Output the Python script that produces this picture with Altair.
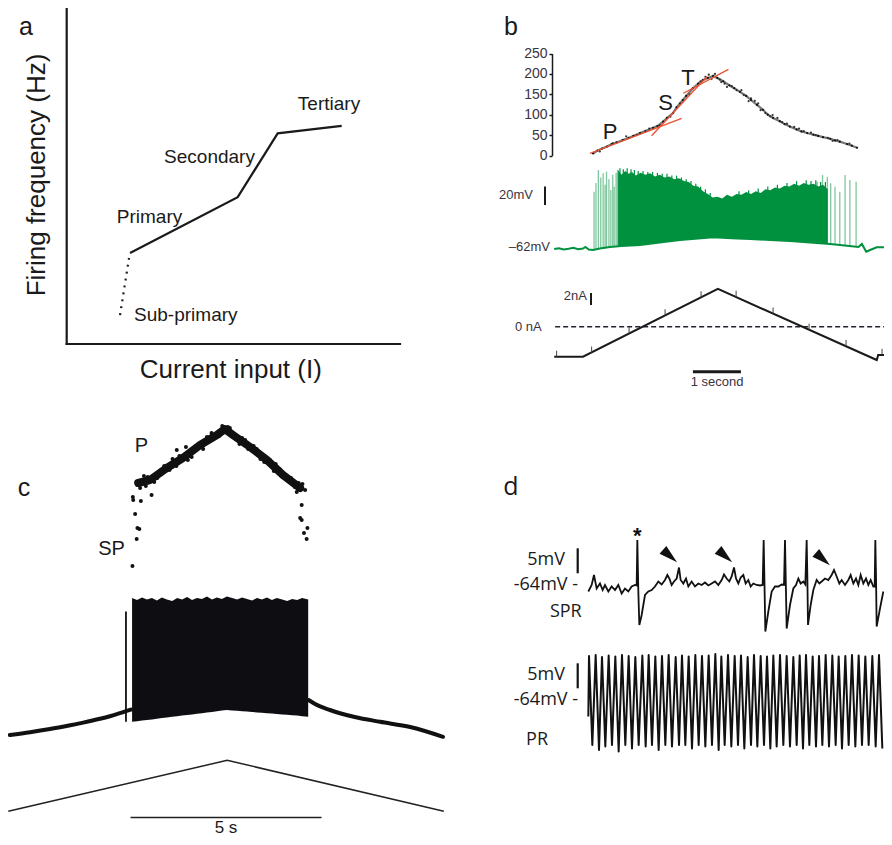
import altair as alt
import pandas as pd

W, H = 876, 829
INK = "#1a1a1a"
SANS = "Liberation Sans"
DFONT = "Open Sans"
GREEN = "#00913f"
RED = "#ea5030"

# ---------------- panel a : schematic f-I curve ----------------
a_axis_i = [0, 0]
a_axis_i2 = [0, 10]
a_axis_f = [0, 0]
a_axis_f2 = [100, 0]
a_sub_i = [1.6, 1.87]
a_sub_f = [8.6, 25.6]
a_curve_i = [1.9, 5.13, 6.33, 8.25]
a_curve_f = [27.1, 43.7, 62.7, 64.9]

# ---------------- panel b : rate (Hz) vs time (s) ----------------
b_rate_t = [0.21, 0.3, 0.4, 0.5, 0.6, 0.7, 0.83, 0.95, 1.05, 1.19, 1.3, 1.46, 1.55, 1.67, 1.75,
            1.875, 1.95, 2.08, 2.15, 2.29, 2.4, 2.5, 2.6, 2.71, 2.8, 2.92, 3.05, 3.15, 3.27, 3.4,
            3.5, 3.625, 3.75, 3.85, 3.96, 4.1, 4.2, 4.31, 4.45, 4.55, 4.67, 4.8, 4.9, 5.0, 5.15,
            5.25, 5.35, 5.5, 5.6, 5.71]
b_rate_hz = [5, 12, 17, 22, 28, 32, 38, 43, 48, 55, 60, 68, 72, 83, 92,
             104, 118, 136, 146, 165, 176, 185, 190, 195, 190, 182, 172, 165, 156, 146,
             136, 124, 112, 100, 92, 84, 77, 71, 64, 59, 55, 51, 48, 45, 41,
             37, 34, 28, 24, 19]
b_jit_t = [0.35, 0.62, 0.9, 1.12, 1.38, 1.6, 1.82, 2.02, 2.22, 2.45, 2.62, 2.75, 2.85, 2.95,
           3.1, 3.2, 3.35, 3.5, 3.65, 3.8, 3.95, 4.15, 4.4, 4.6, 4.85, 5.1, 5.3, 5.55,
           2.55, 2.68, 2.88, 3.0, 3.3, 3.45, 3.58, 3.7, 3.9, 4.05, 4.25, 4.5, 4.75, 5.2]
b_jit_hz = [10, 30, 47, 50, 66, 74, 95, 128, 150, 182, 198, 200, 186, 176,
            170, 160, 148, 140, 128, 104, 99, 82, 70, 60, 50, 43, 38, 29,
            193, 188, 180, 168, 160, 133, 134, 111, 96, 92, 78, 66, 56, 36]
b_fit_seg = ["P", "P", "S", "S", "T", "T"]
b_fit_t = [0.146, 2.056, 1.43, 2.58, 2.09, 3.03]
b_fit_hz = [5.4, 91.2, 48.5, 193, 152.5, 211]
b_rate_ticks = [0, 50, 100, 150, 200, 250]

# membrane potential (mV) of panel b
b_base_t = [-0.6, -0.5, -0.4, -0.3, -0.2, -0.1, 0.0, 0.05, 0.12, 0.21, 0.35, 0.56, 0.8, 1.19, 1.6,
            2.02, 2.4, 2.71, 3.1, 3.48, 3.9, 4.31, 4.73, 5.15, 5.5, 5.74, 5.81, 5.9, 5.98, 6.12, 6.27]
b_base_v = [-62.0, -61.2, -62.5, -61.8, -60.8, -62.2, -61.5, -59.8, -62.6, -63.1, -61.5, -59.8, -58.8,
            -57.6, -55.0, -52.2, -50.5, -49.2, -50.2, -51.1, -52.2, -53.3, -55.0, -56.5, -58.5, -59.8,
            -56.5, -64.9, -63.1, -60.1, -60.0]
b_burst_t = [0.73, 0.8, 0.88, 0.95, 1.02, 1.1, 1.2, 1.3, 1.4, 1.5, 1.6, 1.7, 1.8, 1.9, 2.0, 2.1, 2.2,
             2.3, 2.4, 2.5, 2.6, 2.7, 2.8, 2.9, 3.0, 3.1, 3.2, 3.3, 3.4, 3.5, 3.6, 3.7, 3.8, 3.9, 4.0,
             4.1, 4.2, 4.3, 4.4, 4.5, 4.6, 4.7, 4.8, 4.9, 5.0, 5.1]
b_burst_top = [24, 19, 23, 20, 22, 18, 21, 19, 20.5, 17, 19, 16, 17, 14, 15, 12, 11, 7, 6, 1, -2, -6,
               -5, -7, -3, -5, -2, -3, 0, -2, 1, -1, 3, 2, 5, 4, 7, 6, 9, 7, 10, 8, 9, 6, 8, 3]
b_burst_low = [-59.3, -59.0, -58.8, -58.6, -58.3, -58.0, -57.6, -57.0, -56.5, -55.8, -55.2, -54.5,
               -53.8, -53.0, -52.3, -51.8, -51.3, -50.8, -50.4, -50.0, -49.6, -49.2, -49.3, -49.6,
               -49.9, -50.2, -50.4, -50.6, -50.9, -51.1, -51.4, -51.7, -52.0, -52.3, -52.5, -52.8,
               -53.0, -53.3, -53.7, -54.1, -54.5, -54.9, -55.2, -55.6, -56.0, -56.3]
# taller spikes sticking out of the dense burst
b_tall_t = [0.77, 0.84, 0.92, 1.0, 1.07, 1.15, 1.25, 1.35, 1.45, 1.55, 1.65, 1.75, 1.85, 1.95, 2.05,
            2.15, 2.25, 2.35, 2.45, 2.55, 2.65, 3.25, 3.45, 3.65, 3.85, 4.05, 4.25, 4.45, 4.65,
            4.75, 4.85, 4.95, 5.05]
b_tall_top = [26, 25, 26, 25, 24, 23, 23, 22, 22, 21, 20, 20, 18, 18, 16, 14, 12, 9, 6, 3, -1,
              1, 2, 4, 6, 8, 10, 12, 13, 12, 13, 11, 11]
# lighter isolated spikes at the start and end of the burst
b_spike_t = [0.23, 0.27, 0.32, 0.37, 0.42, 0.46, 0.49, 0.54, 0.58, 0.62, 0.65, 0.69, 0.72,
             4.69, 4.79, 4.88, 4.99, 5.09, 5.16, 5.25, 5.35, 5.46, 5.56, 5.69]
b_spike_top = [0.5, 10, 24.1, 16, 20.6, 8, 22.3, 14, 2.3, 19, 5.9, 21, 24.1,
               7.8, -3.1, 11.4, 18.7, 16.8, 9.6, 5.9, 0.5, 18.7, 13.2, 11.4]
b_spike_low = [-62.5, -62.2, -62.0, -61.7, -61.5, -61.2, -61.0, -60.7, -60.5, -60.2, -60.0, -59.7,
               -59.5, -55.0, -55.3, -55.6, -56.0, -56.4, -56.6, -57.0, -57.5, -58.0, -58.6, -59.5]

# injected current (nA) of panel b
b_ramp_t = [-0.6, 0.0, 2.81, 6.12, 6.15, 6.3]
b_ramp_i = [-5.0, -5.0, 6.3, -5.55, -4.7, -4.7]
b_mark_t = [-0.55, 0.18, 0.96, 1.71, 2.46, 3.19, 3.96, 4.71, 5.48, 6.23]
b_mark_i = [-5.0, -4.3, -1.1, 1.9, 4.9, 5.0, 2.2, -0.5, -3.2, -4.7]
b_zero_t = [-0.58, 6.29]
b_zero_i = [0, 0]
b_bar_mv = [-14, 6]      # 20 mV
b_bar_na = [3.6, 5.6]    # 2 nA
b_bar_s = [2.29, 3.29]   # 1 second

# ---------------- panel c ----------------
c_band_t = [3.40, 3.71, 4.15, 4.57, 5.02, 5.46, 5.67, 5.88, 6.33, 6.77, 7.19, 7.64]
c_band_f = [87, 90, 102, 112, 125, 135, 141, 135, 123, 110, 95, 82]
c_dot_t = [3.25, 3.36, 3.43, 3.38, 3.32, 3.27, 3.26, 3.47, 3.75, 4.41, 4.65, 7.77, 7.68, 7.64, 7.68,
           7.83, 7.74, 7.81, 7.55, 7.70, 3.55, 3.90, 4.30, 4.80, 5.20, 5.60, 5.75, 6.05, 6.50, 6.95,
           7.40, 3.60, 4.00, 4.40, 5.10, 6.20, 6.60, 7.00, 7.50,
           3.45, 3.65, 3.82, 4.08, 4.22, 4.48, 4.70, 4.92, 5.15, 5.32, 5.52, 5.80, 5.95, 6.12, 6.28,
           6.42, 6.70, 6.85, 7.10, 7.30, 7.45, 7.60]
c_dot_f = [4, 31, 41, 42, 56, 70, 73, 69, 75, 120, 123, 80, 65, 52, 50, 42, 37, 31, 78, 86, 94, 92,
           111, 113, 133, 144, 143, 126, 121, 99, 92, 84, 100, 104, 121, 130, 111, 106, 83,
           82, 93, 88, 104, 100, 114, 110, 124, 127, 137, 134, 142, 131, 132, 121,
           124, 108, 110, 101, 91, 87, 87]
c_pre_t = [0.04, 0.57, 1.09, 1.62, 1.96, 2.40, 2.66, 2.92, 3.08, 3.21]
c_pre_v = [-70, -68.6, -67.0, -65.1, -63.8, -61.9, -60.6, -59.1, -58.1, -57.3]
c_post_t = [7.86, 8.03, 8.42, 9.07, 9.73, 10.52, 11.38]
c_post_v = [-52.5, -54.5, -57.5, -61, -63.4, -66, -70.9]
c_first_t = [3.08]
c_first_lo = [-63.4]
c_first_hi = [-8.3]
c_burst_t = [3.24, 3.37, 3.50, 3.63, 3.76, 3.89, 4.02, 4.15, 4.29, 4.42, 4.55, 4.68, 4.81, 4.94,
             5.07, 5.20, 5.33, 5.46, 5.59, 5.72, 5.86, 5.99, 6.12, 6.25, 6.38, 6.51, 6.64, 6.77,
             6.90, 7.03, 7.17, 7.30, 7.43, 7.56, 7.69, 7.85]
c_burst_top = [-1.5, -2.5, -1.2, -2.2, -1.5, -2.8, -1.2, -2.2, -3.0, -1.5, -2.2, -1.0, -2.5, -1.5,
               -2.0, -0.8, -2.2, -1.2, -2.0, -0.8, -1.5, -2.2, -1.2, -2.0, -2.8, -1.5, -2.2, -1.2,
               -2.5, -1.5, -2.2, -3.0, -2.0, -2.5, -1.5, -2.2]
c_burst_low = [-63.4, -63.1, -62.8, -62.5, -62.2, -61.9, -61.5, -61.2, -60.9, -60.6, -60.3, -60.0,
               -59.7, -59.4, -59.1, -58.8, -58.5, -58.1, -57.8, -57.5, -57.7, -57.9, -58.1, -58.3,
               -58.5, -58.7, -58.9, -59.1, -59.3, -59.5, -59.7, -59.9, -60.1, -60.3, -60.6, -60.9]
c_ramp_t = [0, 5.73, 11.4]
c_ramp_i = [0, 5, 0]
c_bar_s = [3.2, 8.2]     # 5 s

# ---------------- panel d ----------------
spr_t = [0, 5, 8.5, 12.5, 17.5, 21.5, 25, 30, 35, 40,
         45, 50, 55, 60, 65, 70, 72.5, 73.5, 75, 76.5,
         80, 85, 90, 95, 100, 105, 110, 115, 118.5, 121.5,
         125, 128.5, 132.5, 136, 138.5, 142.5, 146.5, 150, 155, 160,
         165, 170, 175, 180, 185, 190, 195, 200, 203.5, 207.5,
         211.5, 215, 218.5, 221.5, 225, 228.5, 232.5, 236, 240, 243.5,
         247.5, 252.5, 257.5, 261.5, 263, 264, 265.5, 270, 275, 280,
         285, 290, 293.5, 295, 296, 297.5, 302.5, 307.5, 311.5, 315,
         318.5, 322.5, 325.5, 327.5, 328.5, 329.5, 333.5, 337.5, 342.5, 346.5,
         350, 355, 360, 365, 368.5, 372.5, 376.5, 380, 385, 390,
         393.5, 397.5, 401.5, 405, 408.5, 412.5, 416.5, 420, 423.5, 427.5,
         429.5, 430.5, 431.5, 432.5, 437.5, 442.5]
spr_v = [-65.3, -64.0, -62.0, -64.7, -63.7, -65.0, -64.0, -65.3, -64.3, -65.0,
         -64.0, -65.7, -64.7, -65.3, -64.3, -64.0, -64.1, -55.0, -65.3, -72.0,
         -70.0, -66.0, -65.3, -65.0, -64.3, -63.3, -63.9, -63.0, -62.0, -62.7,
         -64.0, -63.3, -62.7, -60.5, -63.0, -63.7, -62.7, -64.3, -63.3, -64.3,
         -63.7, -64.0, -63.5, -64.1, -63.7, -63.3, -64.0, -63.0, -61.9, -62.7,
         -63.3, -62.3, -60.5, -62.7, -63.7, -62.5, -62.0, -63.7, -63.0, -64.3,
         -63.7, -64.0, -64.1, -64.0, -55.0, -62.0, -73.3, -69.3, -65.3, -64.3,
         -64.3, -63.9, -64.0, -55.0, -62.0, -72.7, -68.0, -64.7, -64.0, -62.7,
         -63.7, -63.3, -63.9, -55.0, -62.0, -72.0, -68.0, -65.0, -63.0, -63.7,
         -63.3, -62.7, -63.0, -62.0, -61.0, -62.3, -63.7, -63.0, -64.0, -63.0,
         -62.0, -63.7, -62.7, -64.0, -62.0, -63.7, -62.7, -64.0, -63.0, -64.3,
         -64.3, -55.0, -62.0, -72.3, -68.7, -65.3]
pr_start_t = [0]
pr_start_v = [-67.3]
pr_peak_t = [1, 11, 20.5, 30.5, 40.5, 50.5, 60.5, 70.5, 81, 90.5,
             100.5, 110.5, 120.5, 131, 140.5, 150.5, 160.5, 170.5, 180.5, 190.5,
             199.5, 209.5, 219.5, 229, 239, 248.5, 258.5, 268, 277.5, 287.5,
             297.5, 307.5, 317, 326.5, 336.5, 346, 356, 366, 375.5, 385.5,
             395.5, 405.5, 415.5, 426, 436]
pr_peak_v = [-55.2, -55.0, -55.4, -55.1, -55.3, -55.0, -55.2, -55.4, -55.1, -55.0,
             -55.3, -55.2, -55.0, -55.4, -55.1, -55.3, -55.0, -55.2, -55.1, -54.8,
             -55.3, -55.0, -55.2, -55.1, -55.4, -55.0, -55.2, -55.3, -55.1, -55.0,
             -55.2, -55.4, -55.1, -55.0, -55.3, -55.2, -55.0, -55.1, -55.3, -55.2,
             -55.0, -55.1, -55.3, -55.2, -55.0]
pr_trough_t = [6, 16, 25.5, 35.5, 45.5, 55.5, 65.5, 75.5, 86, 95.5,
               105.5, 115.5, 125.5, 136, 145.5, 155.5, 165.5, 175.5, 185.5, 195.5,
               204.5, 214.5, 224.5, 234, 244, 253.5, 263.5, 273, 282.5, 292.5,
               302.5, 312.5, 322, 331.5, 341.5, 351, 361, 371, 380.5, 390.5,
               400.5, 410.5, 420.5, 431, 441]
pr_trough_v = [-73.0, -74.0, -73.3, -73.0, -74.3, -73.0, -73.7, -73.0, -73.3, -73.0,
               -74.0, -73.0, -73.3, -73.0, -73.0, -73.7, -73.0, -73.3, -73.0, -74.0,
               -73.0, -73.3, -73.0, -73.7, -73.0, -73.3, -73.0, -73.7, -73.3, -73.0,
               -73.3, -73.0, -73.7, -73.0, -73.3, -73.0, -73.3, -73.0, -73.7, -73.0,
               -73.3, -73.0, -73.0, -73.3, -73.7]
d_star_t = [73.5]
d_star_v = [-54.2]
d_arrow_t = [122.5, 205.2, 351.8]
d_arrow_v = [-58.2, -58.2, -58.8]
d_bar_mv = [-61.66, -56.66]   # 5 mV


# ---------------- helpers ----------------
def sc(dom, rng):
    return alt.Scale(domain=dom, range=rng, nice=False, zero=False)


A_X = ([0, 10], [58.7, 392])
A_Y = ([0, 100], [336, 0])
B_T = ([-0.6, 6.25], [546.2, 875])
B_HZ = ([0, 250], [147.5, 45.5])
B_V = ([-70, 30], [248.3, 156.6])
B_I = ([-6, 7], [354.7, 276.7])
C_T = ([0, 11.4], [0.3, 435.8])
C_F = ([0, 150], [562, 412])
C_V = ([-75, 0], [737, 587])
C_I = ([0, 5], [803.3, 752.3])
D_T = ([0, 443.5], [580.33, 876])
D_SPR = ([-75, -50], [632, 507])
D_PR = ([-75, -50], [747, 622])


def X(field, s):
    return alt.X(field, type="quantitative", scale=sc(*s), axis=None)


def Y(field, s, axis=None):
    return alt.Y(field, type="quantitative", scale=sc(*s), axis=axis)


ONE = pd.DataFrame({"k": [0]})


def label(txt, x, y, size, font=SANS, align="center", angle=0, color=INK, baseline="middle"):
    return alt.Chart(ONE).mark_text(
        text=txt, fontSize=size, font=font, align=align, baseline=baseline,
        angle=angle, color=color
    ).encode(x=alt.value(x), y=alt.value(y))


layers = []

# ---- panel a ----
df = pd.DataFrame({"i": a_axis_i, "i2": a_axis_i2, "f": a_axis_f, "f2": a_axis_f2})
layers.append(alt.Chart(df).mark_rule(color=INK, strokeWidth=2.2, strokeCap="square").encode(
    x=X("i", A_X), x2="i2", y=Y("f", A_Y), y2="f2"))
df = pd.DataFrame({"i": a_sub_i, "f": a_sub_f})
layers.append(alt.Chart(df).mark_line(color=INK, strokeWidth=2.2, strokeDash=[2, 5]).encode(
    x=X("i", A_X), y=Y("f", A_Y)))
df = pd.DataFrame({"i": a_curve_i, "f": a_curve_f})
layers.append(alt.Chart(df).mark_line(color=INK, strokeWidth=2.2).encode(
    x=X("i", A_X), y=Y("f", A_Y)))
layers += [
    label("a", 18, 19, 25),
    label("Firing frequency (Hz)", 28.7, 167, 26, angle=270),
    label("Current input (I)", 222.8, 362, 26),
    label("Tertiary", 321, 96.3, 19),
    label("Secondary", 201.5, 148.7, 19),
    label("Primary", 141.5, 209.3, 19),
    label("Sub-primary", 177.8, 307, 19),
]

# ---- panel b ----
b_axis = alt.Axis(orient="left", offset=-544, values=b_rate_ticks, tickSize=3, tickWidth=1.5,
                  domainWidth=1.5, domainColor=INK, tickColor=INK, labelFont=SANS,
                  labelFontSize=14, labelColor="#3b333d", labelPadding=2, grid=False, title="")
df = pd.DataFrame({"t": b_rate_t, "hz": b_rate_hz})
layers.append(alt.Chart(df).mark_line(color="#555", strokeWidth=2.2, opacity=0.8).encode(
    x=X("t", B_T), y=Y("hz", B_HZ, axis=b_axis)))
layers.append(alt.Chart(df).mark_point(filled=True, color="#111", size=5, opacity=1).encode(
    x=X("t", B_T), y=Y("hz", B_HZ)))
df = pd.DataFrame({"t": b_jit_t, "hz": b_jit_hz})
layers.append(alt.Chart(df).mark_point(filled=True, color="#222", size=5, opacity=0.9).encode(
    x=X("t", B_T), y=Y("hz", B_HZ)))
df = pd.DataFrame({"seg": b_fit_seg, "t": b_fit_t, "hz": b_fit_hz})
layers.append(alt.Chart(df).mark_line(color=RED, strokeWidth=1.3).encode(
    x=X("t", B_T), y=Y("hz", B_HZ), detail="seg"))
layers += [label("P", 602, 124, 22), label("S", 657.5, 95, 22), label("T", 680, 70, 22),
           label("b", 503, 19, 25)]

df = pd.DataFrame({"t": b_spike_t, "top": b_spike_top, "low": b_spike_low})
layers.append(alt.Chart(df).mark_rule(color=GREEN, strokeWidth=1.3, opacity=0.5).encode(
    x=X("t", B_T), y=Y("top", B_V), y2="low"))
df = pd.DataFrame({"t": b_burst_t, "top": b_burst_top, "low": b_burst_low})
layers.append(alt.Chart(df).mark_area(color=GREEN, opacity=1).encode(
    x=X("t", B_T), y=Y("top", B_V), y2="low"))
df = pd.DataFrame({"t": b_tall_t, "top": b_tall_top})
layers.append(alt.Chart(df).transform_calculate(low="datum.top - 15").mark_rule(
    color=GREEN, strokeWidth=1.2).encode(x=X("t", B_T), y=Y("top", B_V), y2="low:Q"))
df = pd.DataFrame({"t": b_base_t, "v": b_base_v})
layers.append(alt.Chart(df).mark_line(color=GREEN, strokeWidth=2).encode(
    x=X("t", B_T), y=Y("v", B_V)))
df = pd.DataFrame({"lo": [b_bar_mv[0]], "hi": [b_bar_mv[1]]})
layers.append(alt.Chart(df).mark_rule(color=INK, strokeWidth=2).encode(
    x=alt.value(537), y=Y("lo", B_V), y2="hi"))
layers += [label("20mV", 525, 187, 13, align="right", color="#3b333d"),
           label("\u201362mV", 542, 239, 13, align="right", color="#3b333d")]

df = pd.DataFrame({"t": b_zero_t, "i": b_zero_i})
layers.append(alt.Chart(df).mark_line(color="#2a2030", strokeWidth=1.6, strokeDash=[5, 3]).encode(
    x=X("t", B_T), y=Y("i", B_I)))
df = pd.DataFrame({"t": b_ramp_t, "i": b_ramp_i})
layers.append(alt.Chart(df).mark_line(color=INK, strokeWidth=2).encode(
    x=X("t", B_T), y=Y("i", B_I)))
df = pd.DataFrame({"t": b_mark_t, "i": b_mark_i})
layers.append(alt.Chart(df).transform_calculate(top="datum.i + 1").mark_rule(
    color="#444", strokeWidth=1).encode(x=X("t", B_T), y=Y("i", B_I), y2="top:Q"))
df = pd.DataFrame({"lo": [b_bar_na[0]], "hi": [b_bar_na[1]]})
layers.append(alt.Chart(df).mark_rule(color=INK, strokeWidth=2).encode(
    x=alt.value(583), y=Y("lo", B_I), y2="hi"))
df = pd.DataFrame({"a": [b_bar_s[0]], "b": [b_bar_s[1]]})
layers.append(alt.Chart(df).mark_rule(color=INK, strokeWidth=3).encode(
    x=X("a", B_T), x2="b", y=alt.value(363.7)))
layers += [label("2nA", 579, 288, 13, align="right", color="#3b333d"),
           label("0 nA", 533.7, 319, 13, align="right", color="#3b333d"),
           label("1 second", 709, 374, 13, color="#3b333d")]

# ---- panel c ----
df = pd.DataFrame({"t": c_band_t, "f": c_band_f})
layers.append(alt.Chart(df).mark_line(color="#111", strokeWidth=8, strokeCap="round",
                                      strokeJoin="round").encode(x=X("t", C_T), y=Y("f", C_F)))
df = pd.DataFrame({"t": c_dot_t, "f": c_dot_f})
layers.append(alt.Chart(df).mark_point(filled=True, color="#111", size=16, opacity=1).encode(
    x=X("t", C_T), y=Y("f", C_F)))
layers += [label("c", 16, 480, 25), label("P", 133.5, 437.5, 20), label("SP", 103.5, 541, 20)]

df = pd.DataFrame({"t": c_burst_t, "top": c_burst_top, "low": c_burst_low})
layers.append(alt.Chart(df).mark_area(color="#0e0e12", opacity=1).encode(
    x=X("t", C_T), y=Y("top", C_V), y2="low"))
df = pd.DataFrame({"t": c_pre_t, "v": c_pre_v})
layers.append(alt.Chart(df).mark_line(color="#111", strokeWidth=4, strokeCap="round",
                                      interpolate="monotone").encode(
    x=X("t", C_T), y=Y("v", C_V)))
df = pd.DataFrame({"t": c_post_t, "v": c_post_v})
layers.append(alt.Chart(df).mark_line(color="#111", strokeWidth=4, strokeCap="round",
                                      interpolate="monotone").encode(
    x=X("t", C_T), y=Y("v", C_V)))
df = pd.DataFrame({"t": c_first_t, "lo": c_first_lo, "hi": c_first_hi})
layers.append(alt.Chart(df).mark_rule(color="#111", strokeWidth=1.8).encode(
    x=X("t", C_T), y=Y("lo", C_V), y2="hi"))
df = pd.DataFrame({"t": c_ramp_t, "i": c_ramp_i})
layers.append(alt.Chart(df).mark_line(color="#222", strokeWidth=1.5).encode(
    x=X("t", C_T), y=Y("i", C_I)))
df = pd.DataFrame({"a": [c_bar_s[0]], "b": [c_bar_s[1]]})
layers.append(alt.Chart(df).mark_rule(color="#222", strokeWidth=1.5).encode(
    x=X("a", C_T), x2="b", y=alt.value(809.5)))
layers.append(label("5 s", 218, 820, 17))

# ---- panel d ----
df = pd.DataFrame({"t": spr_t, "v": spr_v})
layers.append(alt.Chart(df).mark_line(color="#111", strokeWidth=1.8).encode(
    x=X("t", D_T), y=Y("v", D_SPR)))
pr_rows = [(t, v) for t, v in zip(pr_start_t, pr_start_v)]
for pt, pv, tt, tv in zip(pr_peak_t, pr_peak_v, pr_trough_t, pr_trough_v):
    pr_rows += [(pt, pv), (tt, tv)]
df = pd.DataFrame(pr_rows, columns=["t", "v"])
layers.append(alt.Chart(df).mark_line(color="#111", strokeWidth=2, strokeJoin="round").encode(
    x=X("t", D_T), y=Y("v", D_PR)))
df = pd.DataFrame({"t": d_star_t, "v": d_star_v})
layers.append(alt.Chart(df).mark_text(text="*", fontSize=22, font=SANS, color="#111",
                                      fontWeight="bold").encode(
    x=X("t", D_T), y=Y("v", D_SPR)))
df = pd.DataFrame({"t": d_arrow_t, "v": d_arrow_v})
layers.append(alt.Chart(df).mark_point(shape="M0,-1L0.55,1L-0.55,1Z", size=350, angle=131,
                                       filled=True, color="#111", opacity=1).encode(
    x=X("t", D_T), y=Y("v", D_SPR)))
df = pd.DataFrame({"lo": [d_bar_mv[0]], "hi": [d_bar_mv[1]]})
layers.append(alt.Chart(df).mark_rule(color="#111", strokeWidth=2.2).encode(
    x=alt.value(569.7), y=Y("lo", D_SPR), y2="hi"))
layers.append(alt.Chart(df).mark_rule(color="#111", strokeWidth=2.2).encode(
    x=alt.value(569.7), y=Y("lo", D_PR), y2="hi"))
layers += [
    label("d", 503, 479, 25, font=DFONT),
    label("5mV", 557, 552, 18, font=DFONT, align="right"),
    label("-64mV -", 570, 577, 18, font=DFONT, align="right"),
    label("SPR", 573.7, 603.7, 18, font=DFONT, align="right"),
    label("5mV", 557, 667, 18, font=DFONT, align="right"),
    label("-64mV -", 570, 692, 18, font=DFONT, align="right"),
    label("PR", 540, 732, 18, font=DFONT, align="right"),
]

chart = alt.layer(*layers).resolve_scale(x="independent", y="independent").properties(
    width=W, height=H, padding=0, background="white",
    autosize=alt.AutoSizeParams(type="none"),
).configure_view(stroke=None)

chart.save("out.html", embed_options={"renderer": "svg", "actions": False})
